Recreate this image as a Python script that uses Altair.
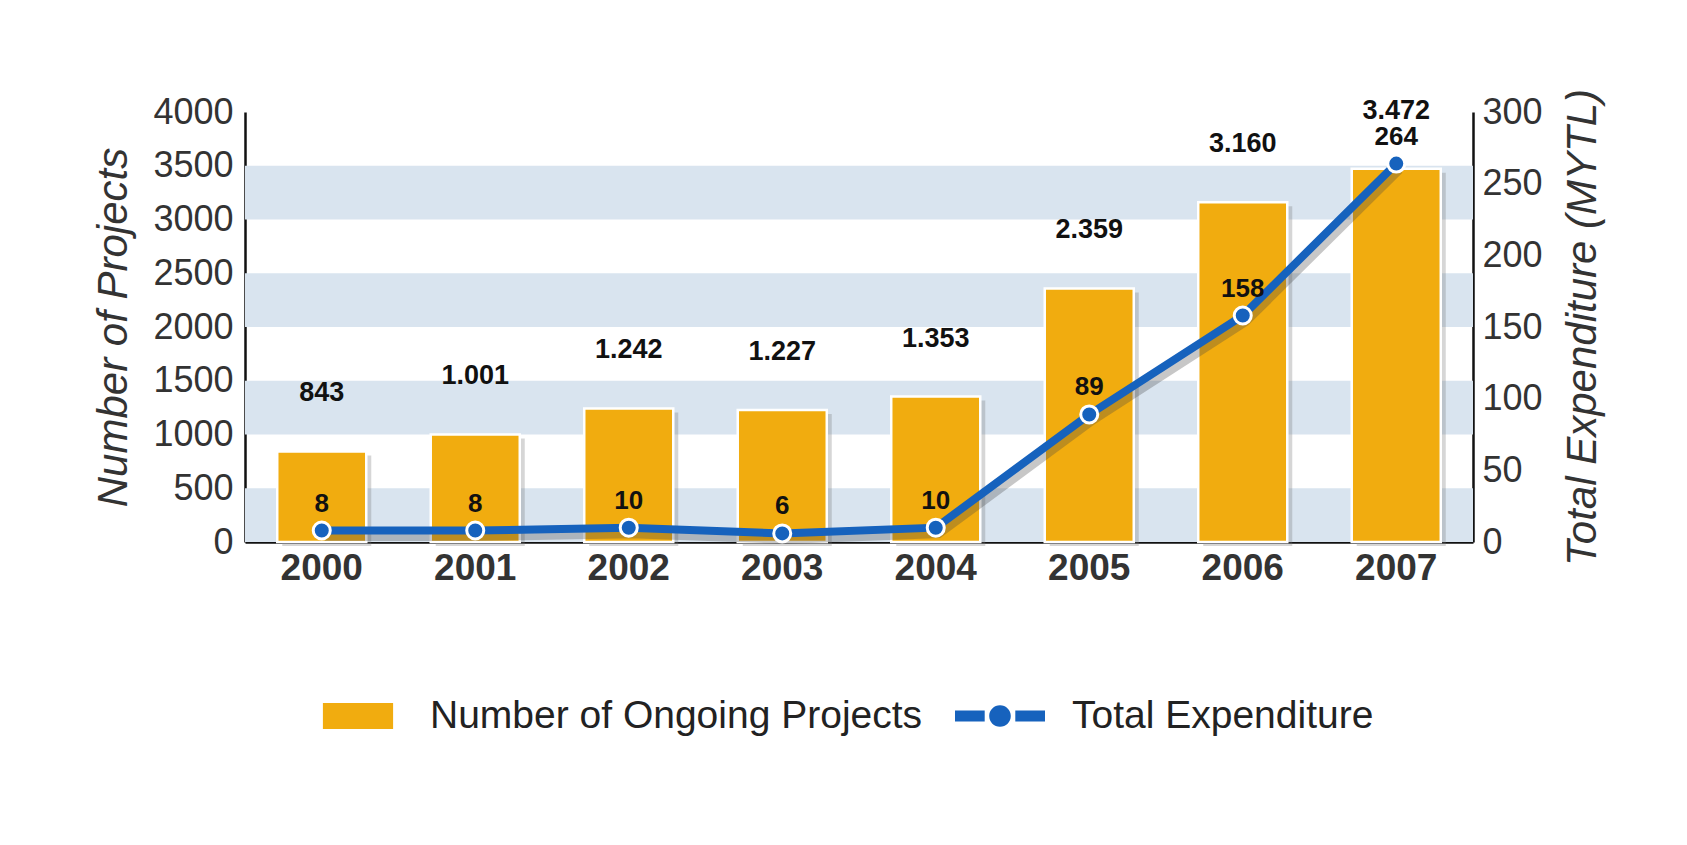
import altair as alt
import pandas as pd

# ---------------- data ----------------
years = ["2000", "2001", "2002", "2003", "2004", "2005", "2006", "2007"]
projects = [843, 1001, 1242, 1227, 1353, 2359, 3160, 3472]
expenditure = [8, 8, 10, 6, 10, 89, 158, 264]
band_lo = [0, 1000, 2000, 3000]
band_hi = [500, 1500, 2500, 3500]
left_ticks = [0, 500, 1000, 1500, 2000, 2500, 3000, 3500, 4000]
right_ticks = [0, 50, 100, 150, 200, 250, 300]
series_names = ["Number of Ongoing Projects", "Total Expenditure"]

# ---------------- styles ----------------
FONT = "Liberation Sans"
ORANGE = "#F1AC0F"
BLUE = "#1662BD"
BAND = "#D9E4EF"
DARK = "#333333"

df = pd.DataFrame({
    "year": years,
    "projects": projects,
    "expenditure": expenditure,
    "proj_label": [f"{v:,}".replace(",", ".") for v in projects],
    "series": series_names[0],
})
bands = pd.DataFrame({"lo": band_lo, "hi": band_hi})

x_enc = alt.X(
    "year:N",
    scale=alt.Scale(paddingInner=0.42, paddingOuter=0.21),
    axis=alt.Axis(title=None, labelAngle=0, labelFontSize=37, labelFontWeight="bold",
                  labelColor=DARK, labelFont=FONT, labelPadding=8, ticks=False,
                  domainColor="#111111", domainWidth=2.5),
)

yl_scale = alt.Scale(domain=[0, 4000], nice=False)
yl_axis = alt.Axis(title="Number of Projects", values=left_ticks, format="d",
                   titleFontStyle="italic",
                   titleFontWeight="normal", titleFontSize=42, titleColor=DARK, titleFont=FONT,
                   labelFontSize=36, labelColor=DARK, labelFont=FONT, ticks=False, grid=False,
                   domainColor="#111111", domainWidth=2.5, labelPadding=12, titlePadding=17)

yr_scale = alt.Scale(domain=[0, 300], nice=False)
yr_axis = alt.Axis(orient="right", title="Total Expenditure (MYTL)", values=right_ticks,
                   format="d", titleAngle=270, titleBaseline="top",
                   titleFontStyle="italic", titleFontWeight="normal",
                   titleFontSize=42, titleColor=DARK, titleFont=FONT,
                   labelFontSize=36, labelColor=DARK, labelFont=FONT, ticks=False, grid=False,
                   domainColor="#111111", domainWidth=2.5, labelPadding=9, titlePadding=20)

rect_path = "M-0.78,-0.29H0.78V0.29H-0.78Z"
line_path = ("M-1,-0.12H-0.34V0.12H-1Z M0.34,-0.12H1V0.12H0.34Z "
             "M0.24,0A0.24,0.24 0 1,1 -0.24,0A0.24,0.24 0 1,1 0.24,0Z")

legend = alt.Legend(
    orient="none", legendX=68, legendY=559, direction="horizontal", title=None,
    labelFontSize=39, labelColor="#222222", labelFont=FONT, symbolSize=8100,
    labelOffset=27, columnPadding=32, labelLimit=800,
    symbolType={"expr": f"datum.value === 'Total Expenditure' ? '{line_path}' : '{rect_path}'"},
    symbolOpacity=1, symbolStrokeWidth=0,
)

band_layer = alt.Chart(bands).mark_rect(color=BAND).encode(
    x=alt.value(0), x2=alt.value("width"),
    y=alt.Y("lo:Q", scale=yl_scale, axis=yl_axis), y2="hi:Q",
)

base = alt.Chart(df)

bar_shadow = base.mark_bar(color="#777777", opacity=0.3, xOffset=5, yOffset=4).encode(
    x=x_enc, y=alt.Y("projects:Q", scale=yl_scale, axis=yl_axis),
)

bars = base.mark_bar(stroke="white", strokeWidth=2.5).encode(
    x=x_enc,
    y=alt.Y("projects:Q", scale=yl_scale, axis=yl_axis),
    color=alt.Color("series:N", scale=alt.Scale(domain=series_names, range=[ORANGE, BLUE]),
                    legend=legend),
)

bar_labels = base.mark_text(font=FONT, fontSize=27, fontWeight="bold", color="#111111",
                            dy=-50, baseline="alphabetic").encode(
    x=x_enc, y=alt.Y("projects:Q", scale=yl_scale, axis=yl_axis), text="proj_label:N",
)

left = alt.layer(band_layer, bar_shadow, bars, bar_labels)

line_shadow = base.mark_line(color="#444444", strokeWidth=9, opacity=0.3,
                             xOffset=3, yOffset=6).encode(
    x=x_enc, y=alt.Y("expenditure:Q", scale=yr_scale, axis=yr_axis),
)
line = base.mark_line(color=BLUE, strokeWidth=8).encode(
    x=x_enc, y=alt.Y("expenditure:Q", scale=yr_scale, axis=yr_axis),
)
points = base.mark_point(filled=True, fill=BLUE, stroke="white", strokeWidth=3,
                         size=290, opacity=1, shape="circle").encode(
    x=x_enc, y=alt.Y("expenditure:Q", scale=yr_scale, axis=yr_axis),
)
line_labels = base.mark_text(font=FONT, fontSize=26, fontWeight="bold", color="#111111",
                             dy=-19, baseline="alphabetic").encode(
    x=x_enc, y=alt.Y("expenditure:Q", scale=yr_scale, axis=yr_axis), text="expenditure:Q",
)

right = alt.layer(line_shadow, line, points, line_labels)

chart = alt.layer(left, right).resolve_scale(y="independent").properties(
    width=1228, height=430,
    autosize=alt.AutoSizeParams(type="none"),
    padding={"left": 237, "top": 104, "right": 206, "bottom": 295},
).configure_view(stroke=None)

chart.save("out.html", embed_options={"renderer": "svg", "actions": False})
